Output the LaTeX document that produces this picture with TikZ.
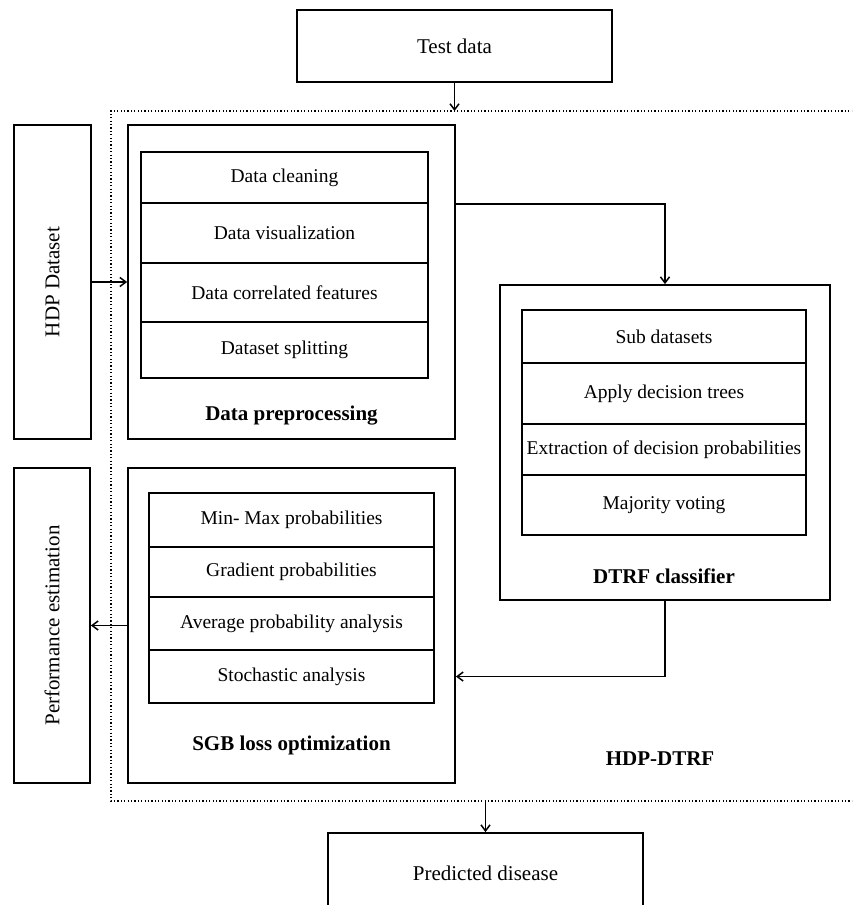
\documentclass[tikz,border=0pt]{standalone}
\usepackage{fontspec}
\setmainfont{Liberation Serif}
\usetikzlibrary{arrows.meta}
\tikzset{
  box/.style={draw, line width=1.8pt, rectangle, inner sep=0pt},
  rowbox/.style={draw, line width=1.6pt, rectangle, inner sep=0pt, font=\fontsize{19.5}{22}\selectfont},
  biglab/.style={font=\fontsize{21}{24}\selectfont},
  boldlab/.style={font=\fontsize{21}{24}\selectfont\bfseries},
  conn/.style={line width=1.5pt, -{Straight Barb[length=6pt,width=9pt,line width=1.5pt]}},
  dotline/.style={line width=1.2pt, dash pattern=on 1.2pt off 2.2pt},
}
\begin{document}
\begin{tikzpicture}[x=1pt,y=-1pt]
\useasboundingbox (0,0) rectangle (852,905);
\clip (0,0) rectangle (852,905);
% top / bottom boxes
\node[box, biglab, minimum width=315, minimum height=72] (test) at (454.5,46) {Test data};
\node[box, biglab, minimum width=315, minimum height=80] (pred) at (485.5,873) {Predicted disease};
% dotted frame
\draw[dotline] (880,111) -- (111,111) -- (111,801) -- (880,801);
\coordinate (dtop) at (454.5,111);
\coordinate (dbot) at (485.5,801);
% side boxes
\node[box, minimum width=77, minimum height=314] (hdp) at (52.5,282) {};
\node[biglab, rotate=90] (hdplab) at (hdp.center) {HDP Dataset};
\node[box, minimum width=76, minimum height=315] (perf) at (52,625.5) {};
\node[biglab, rotate=90] (perflab) at (perf.center) {Performance estimation};
% data preprocessing
\node[box, minimum width=327, minimum height=314] (dp) at (291.5,282) {};
\node[rowbox, minimum width=287, minimum height=51] (dp1) at (284.5,177.5) {Data cleaning};
\node[rowbox, minimum width=287, minimum height=60] (dp2) at (284.5,233) {Data visualization};
\node[rowbox, minimum width=287, minimum height=59] (dp3) at (284.5,292.5) {Data correlated features};
\node[rowbox, minimum width=287, minimum height=56] (dp4) at (284.5,350) {Dataset splitting};
\node[boldlab] (dplab) at (291.5,416) {Data preprocessing};
% DTRF classifier
\node[box, minimum width=330, minimum height=315] (dtrf) at (665,442.5) {};
\node[rowbox, minimum width=284, minimum height=53] (dt1) at (664,336.5) {Sub datasets};
\node[rowbox, minimum width=284, minimum height=61] (dt2) at (664,393.5) {Apply decision trees};
\node[rowbox, minimum width=284, minimum height=51] (dt3) at (664,449.5) {Extraction of decision probabilities};
\node[rowbox, minimum width=284, minimum height=60] (dt4) at (664,505) {Majority voting};
\node[boldlab] (dtlab) at (664,576) {DTRF classifier};
% SGB loss optimization
\node[box, minimum width=327, minimum height=315] (sgb) at (291.5,625.5) {};
\node[rowbox, minimum width=285, minimum height=54] (sg1) at (291.5,520) {Min- Max probabilities};
\node[rowbox, minimum width=285, minimum height=50] (sg2) at (291.5,572) {Gradient probabilities};
\node[rowbox, minimum width=285, minimum height=53] (sg3) at (291.5,623.5) {Average probability analysis};
\node[rowbox, minimum width=285, minimum height=53] (sg4) at (291.5,676.5) {Stochastic analysis};
\node[boldlab] (sglab) at (291.5,745) {SGB loss optimization};
% HDP-DTRF label
\node[boldlab] (frame) at (660,759) {HDP-DTRF};
% connectors
\draw[conn] (test.south) -- (dtop);
\draw[conn] (dbot) -- (pred.north);
\draw[conn] (hdp.east) -- (dp.west);
\draw[conn] (dp.east |- dp1.south) -| (dtrf.north);
\draw[conn] (dtrf.south) |- (sgb.east |- sg4.center);
\draw[conn] (sgb.west) -- (perf.east);
\end{tikzpicture}
\end{document}
